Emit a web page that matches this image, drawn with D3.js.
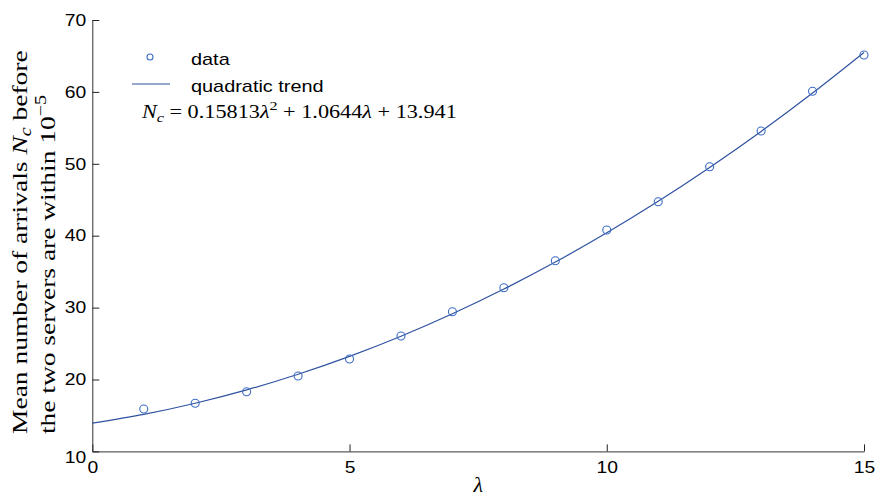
<!DOCTYPE html>
<html>
<head>
<meta charset="utf-8">
<script src="https://cdn.jsdelivr.net/npm/d3@7"></script>
<style>
  body { margin: 0; background: #fff; }
</style>
</head>
<body>
<div id="chart"></div>
<script>
const width = 878;
const height = 498;

// measured data points (lambda, Nc)
const lambdas = [1, 2, 3, 4, 5, 6, 7, 8, 9, 10, 11, 12, 13, 14, 15];
const ncValues = [15.90, 16.69, 18.30, 20.49, 22.85, 26.05, 29.43, 32.77, 36.52, 40.79, 44.73, 49.60, 54.56, 60.10, 65.13];

// quadratic trend read at whole lambdas
const trendLambdas = [0, 1, 2, 3, 4, 5, 6, 7, 8, 9, 10, 11, 12, 13, 14, 15];
const trendValues = [13.94, 15.16, 16.70, 18.56, 20.73, 23.22, 26.02, 29.14, 32.58, 36.33, 40.40, 44.78, 49.49, 54.50, 59.84, 65.49];

const xTicks = [0, 5, 10, 15];
const yTicks = [10, 20, 30, 40, 50, 60, 70];

const SANS = "'Liberation Sans', Arial, Helvetica, sans-serif";
const SERIF = "'Liberation Serif', 'Times New Roman', serif";
const STRETCH = 1.17; // original text looks a bit wide

const svg = d3
	.select("#chart")
	.append("svg")
	.attr("width", width)
	.attr("height", height);

const x = d3.scaleLinear().domain([0, 15]).range([92.3, 864]);
const y = d3.scaleLinear().domain([10, 70]).range([451.4, 20]);

// widen a text horizontally around its own x
function stretch(sel, sx) {
	sel.each(function () {
		const t = d3.select(this);
		const x0 = +t.attr("x") || 0;
		t.attr("transform", `translate(${x0},0) scale(${sx},1) translate(${-x0},0)`);
	});
}

// axes, ticks pointing inward
const xAxis = svg
	.append("g")
	.attr("transform", `translate(0,${y(10)})`)
	.call(d3.axisBottom(x).tickValues(xTicks).tickFormat(d3.format("d")).tickSizeInner(-7).tickSizeOuter(0).tickPadding(10));

const yAxis = svg
	.append("g")
	.attr("transform", `translate(${x(0)},0)`)
	.call(d3.axisLeft(y).tickValues(yTicks).tickFormat(d3.format("d")).tickSizeInner(-7).tickSizeOuter(0).tickPadding(6));

svg.selectAll(".domain").attr("stroke", "#333");
svg.selectAll(".tick line").attr("stroke", "#222");
svg.selectAll(".tick text")
	.style("font-family", SANS)
	.style("font-size", "16.5px")
	.attr("fill", "#000")
	.call(stretch, STRETCH);

// bottom y label sits a bit lower, like the original
yAxis.selectAll(".tick text").filter(d => d === 10).attr("dy", "0.7em");

// trend curve
const line = d3
	.line()
	.x((d, i) => x(trendLambdas[i]))
	.y(d => y(d))
	.curve(d3.curveNatural);

svg.append("path")
	.datum(trendValues)
	.attr("d", line)
	.attr("fill", "none")
	.attr("stroke", "#2f52a0")
	.attr("stroke-width", 1.2);

// data circles
svg.append("g")
	.selectAll("circle")
	.data(ncValues)
	.enter()
	.append("circle")
	.attr("cx", (d, i) => x(lambdas[i]))
	.attr("cy", d => y(d))
	.attr("r", 4)
	.attr("fill", "none")
	.attr("stroke", "#3c6cc4")
	.attr("stroke-width", 1.1);

// legend
const legend = svg.append("g");
legend.append("circle")
	.attr("cx", 150).attr("cy", 57).attr("r", 3)
	.attr("fill", "none").attr("stroke", "#3c6cc4").attr("stroke-width", 1.1);
legend.append("line")
	.attr("x1", 132).attr("x2", 170).attr("y1", 84).attr("y2", 84)
	.attr("stroke", "#2f52a0").attr("stroke-width", 1.2);
legend.selectAll("text")
	.data(["data", "quadratic trend"])
	.enter()
	.append("text")
	.attr("x", 191)
	.attr("y", (d, i) => (i === 0 ? 65 : 92))
	.style("font-family", SANS)
	.style("font-size", "17px")
	.text(d => d)
	.call(stretch, STRETCH);

// scale a serif text along its direction to a target length
function fitTo(sel, target, base) {
	const len = sel.node().getComputedTextLength();
	sel.attr("transform", `${base} scale(${target / len},1)`);
}

// equation
const eq = svg.append("text")
	.style("font-family", SERIF)
	.style("font-size", "18px");
eq.append("tspan").style("font-style", "italic").text("N");
eq.append("tspan").style("font-style", "italic").style("font-size", "13px").attr("dy", 4).text("c");
eq.append("tspan").attr("dy", -4).text(" = 0.15813");
eq.append("tspan").style("font-style", "italic").text("λ");
eq.append("tspan").style("font-size", "13px").attr("dy", -8).text("2");
eq.append("tspan").attr("dy", 8).text(" + 1.0644");
eq.append("tspan").style("font-style", "italic").text("λ");
eq.append("tspan").text(" + 13.941");
fitTo(eq, 315, "translate(142,118)");

// y label, two lines rotated
const yl1 = svg.append("text")
	.style("font-family", SERIF)
	.style("font-size", "22px");
yl1.append("tspan").text("Mean number of arrivals ");
yl1.append("tspan").style("font-style", "italic").text("N");
yl1.append("tspan").style("font-style", "italic").style("font-size", "16px").attr("dy", 4).text("c");
yl1.append("tspan").attr("dy", -4).text(" before");
fitTo(yl1, 384, "translate(27,434) rotate(-90)");

const yl2 = svg.append("text")
	.style("font-family", SERIF)
	.style("font-size", "22px");
yl2.append("tspan").text("the two servers are within 10");
yl2.append("tspan").style("font-size", "16px").attr("dy", -9).text("−5");
fitTo(yl2, 339, "translate(55,434) rotate(-90)");

// x label
svg.append("text")
	.attr("x", x(7.5)).attr("y", 492)
	.attr("text-anchor", "middle")
	.style("font-family", SERIF)
	.style("font-size", "22px").style("font-style", "italic")
	.text("λ");
</script>
</body>
</html>
